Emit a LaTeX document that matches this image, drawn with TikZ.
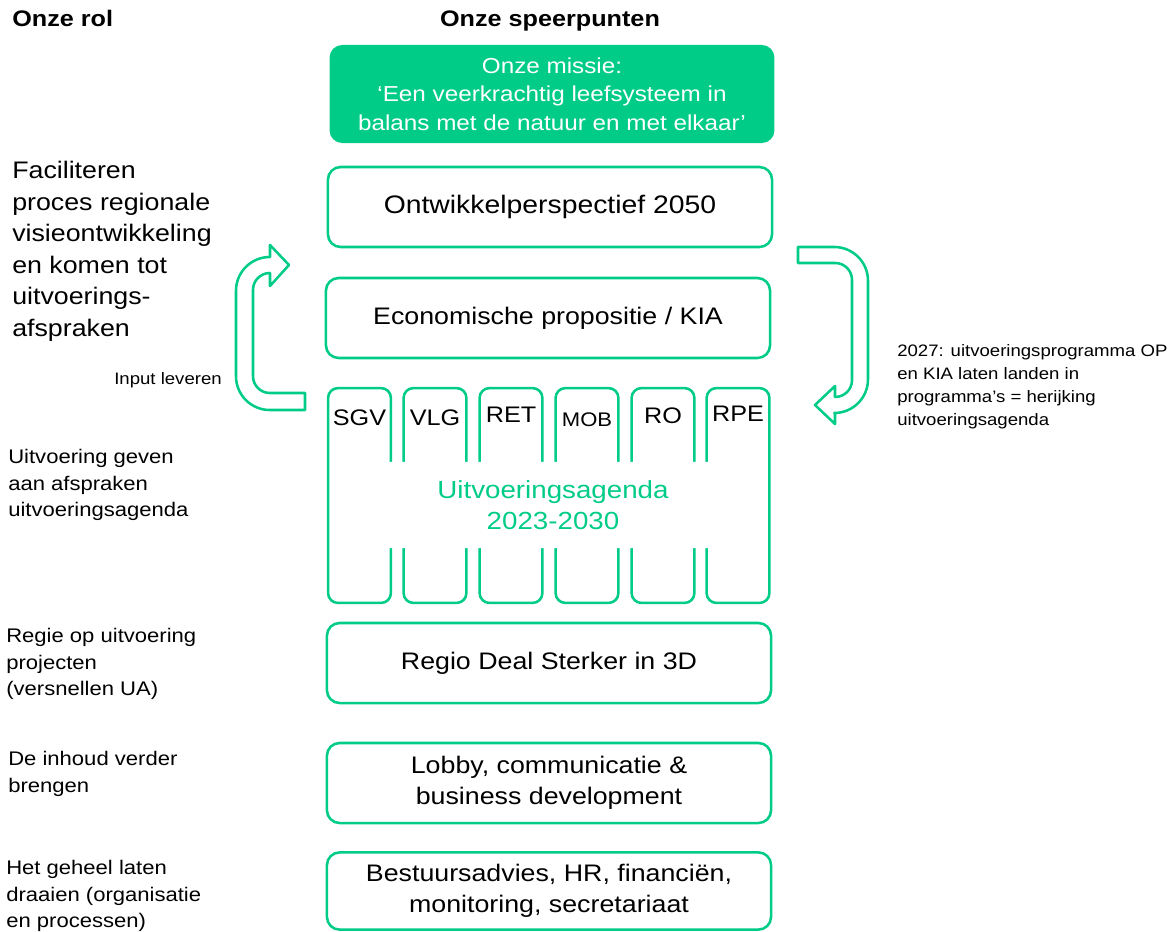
\documentclass[tikz,border=0pt]{standalone}
\usepackage{fontspec}
\setmainfont{Liberation Sans}[FakeStretch=1.12]
\usetikzlibrary{positioning}

\definecolor{uagreen}{RGB}{0,204,136}
\newcommand{\headtxt}{\fontsize{16pt}{18pt}\selectfont\bfseries}
\newcommand{\boxtxt}{\fontsize{17pt}{22pt}\selectfont}
\newcommand{\rolbig}{\fontsize{17pt}{22.4pt}\selectfont}
\newcommand{\rolmid}{\fontsize{14pt}{18.9pt}\selectfont}
\newcommand{\smalltxt}{\fontsize{11.8pt}{16.3pt}\selectfont}

\begin{document}
\begin{tikzpicture}[x=0.025cm,y=-0.025cm]
\tikzset{lane/.style={draw=uagreen,line width=1.8pt,rounded corners=9pt,minimum width=11.1cm,minimum height=2cm,align=center,font=\boxtxt},
  missie/.style={fill=uagreen,rounded corners=9pt,minimum width=11.12cm,minimum height=2.45cm,align=center,text=white,font=\fontsize{15.4pt}{20.2pt}\selectfont},
  pillar/.style={draw=uagreen,line width=1.8pt,rounded corners=7pt,minimum width=1.57cm,minimum height=5.37cm},
  pillarlab/.style={font=\fontsize{16pt}{20pt}\selectfont,anchor=north},
  rol/.style={anchor=north west,align=left,inner sep=0pt}};
\useasboundingbox (0,0) rectangle (1175,932);

% kopjes
\node[anchor=base west,inner sep=0pt,font=\headtxt] (rolhead) at (12,27) {Onze rol};
\node[anchor=base,inner sep=0pt,font=\headtxt] (speerhead) at (550,27) {Onze speerpunten};

% speerpunten
\node[missie] (missie) at (552,94) {Onze missie:\\‘Een veerkrachtig leefsysteem in\\balans met de natuur en met elkaar’};
\node[lane,font=\fontsize{18pt}{22pt}\selectfont] (op) at (550,207) {Ontwikkelperspectief 2050};
\node[lane] (kia) at (548,318) {Economische propositie / KIA};

\foreach \name/\cx/\dy/\lab in {sgv/359.5/0.44/SGV, vlg/435/0.44/VLG, ret/511/0.37/RET, mob/587/0.52/{\fontsize{14pt}{16pt}\selectfont MOB}, ro/663/0.41/RO, rpe/738/0.35/RPE}
  {\node[pillar] (\name) at (\cx,495.5) {};
   \node[pillarlab] (\name-lab) at ([yshift=-\dy cm]\name.north) {\lab};}
\node[fill=white,rounded corners=8pt,minimum width=8.7cm,minimum height=2.15cm,align=center,text=uagreen,font=\fontsize{17.6pt}{22pt}\selectfont] (ua) at (553,505) {Uitvoeringsagenda\\2023-2030};

\node[lane] (regio) at (549,663) {Regio Deal Sterker in 3D};
\node[lane] (lobby) at (549,783) {Lobby, communicatie \&\\business development};
\node[lane,minimum height=1.93cm] (bestuur) at (549,891) {Bestuursadvies, HR, financiën,\\monitoring, secretariaat};

% rollen
\node[rol,font=\rolbig] (rol1) at (12,161) {Faciliteren\\proces regionale\\visieontwikkeling\\en komen tot\\uitvoerings-\\afspraken};
\node[rol,font=\rolmid] (rol2) at (8,449) {Uitvoering geven\\aan afspraken\\uitvoeringsagenda};
\node[rol,font=\rolmid] (rol3) at (6,628) {Regie op uitvoering\\projecten\\(versnellen UA)};
\node[rol,font=\rolmid] (rol4) at (8,751) {De inhoud verder\\brengen};
\node[rol,font=\rolmid] (rol5) at (6,860) {Het geheel laten\\draaien (organisatie\\en processen)};

\node[anchor=base east,inner sep=0pt,font=\smalltxt] (input) at (222,384) {Input leveren};
\node[rol,font=\smalltxt] (herijk) at (897,344) {2027: uitvoeringsprogramma OP\\en KIA laten landen in\\programma’s = herijking\\uitvoeringsagenda};

% pijlen
\draw[uagreen,line width=1.8pt,fill=white,line join=round]
  (305,393) [rounded corners=12pt] -- (253,393) -- (253,273) [sharp corners] -- (270,273) -- (270,286) -- (289,265) -- (270,245) -- (270,257)
  [rounded corners=24pt] -- (236,257) -- (236,410) [sharp corners] -- (305,410) -- cycle;
\draw[uagreen,line width=1.8pt,fill=white,line join=round]
  (798,247) [rounded corners=24pt] -- (868,247) -- (868,413) [sharp corners] -- (835,413) -- (835,424) -- (815,405) -- (835,386) -- (835,397)
  [rounded corners=12pt] -- (852,397) -- (852,263) [sharp corners] -- (798,263) -- cycle;
\end{tikzpicture}
\end{document}
